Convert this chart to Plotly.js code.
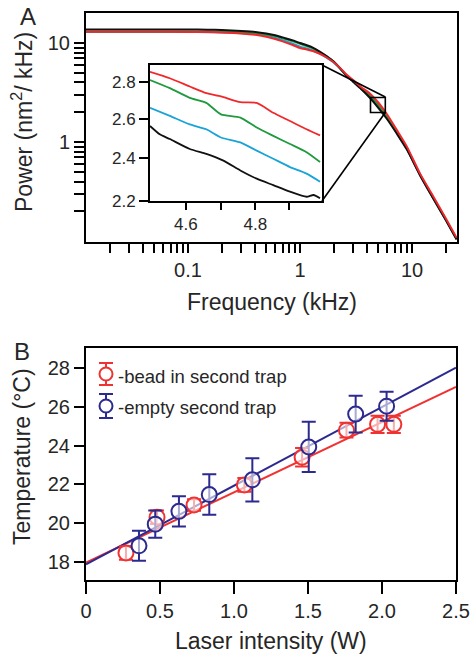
<!DOCTYPE html>
<html>
<head>
<meta charset="utf-8">
<script src="https://cdn.plot.ly/plotly-3.0.1.min.js"></script>
<style>html,body{margin:0;padding:0;background:#fff;}#chart{width:472px;height:654px;}</style>
</head>
<body>
<div id="chart"></div>
<script>
// ---------- Panel A: power spectra ----------
const freqA = [0.0123, 0.02, 0.05, 0.1, 0.15, 0.2, 0.3, 0.4, 0.5, 0.6, 0.7, 0.85, 1.0, 1.15, 1.3, 1.5, 1.75, 2.0, 2.3, 2.6, 3.0, 3.5, 4.2, 5.0, 6.0, 7.3, 9.0, 11.8, 15, 20, 25];
const powerBlack = [13.7, 13.7, 13.7, 13.7, 13.65, 13.55, 13.25, 12.95, 12.5, 12.0, 11.4, 10.7, 10.0, 9.5, 9.0, 8.2, 7.3, 6.5, 5.5, 4.7, 4.05, 3.45, 2.8, 2.22, 1.7, 1.22, 0.84, 0.46, 0.285, 0.163, 0.104];
const powerGreen = [13.1, 13.1, 13.1, 13.1, 13.07, 13.0, 12.8, 12.55, 12.2, 11.75, 11.2, 10.5, 9.8, 9.3, 8.85, 8.1, 7.25, 6.45, 5.5, 4.7, 4.1, 3.5, 2.95, 2.37, 1.78, 1.26, 0.86, 0.47, 0.29, 0.165, 0.105];
const powerCyan = [12.9, 12.9, 12.9, 12.9, 12.87, 12.8, 12.55, 12.25, 11.85, 11.3, 10.7, 9.9, 9.2, 8.8, 8.4, 7.8, 7.05, 6.35, 5.45, 4.65, 4.05, 3.45, 2.85, 2.29, 1.74, 1.24, 0.85, 0.465, 0.288, 0.164, 0.105];
const powerRed = [13.0, 13.0, 13.0, 12.95, 12.9, 12.8, 12.5, 12.1, 11.6, 11.0, 10.4, 9.6, 8.9, 8.6, 8.3, 7.8, 7.1, 6.4, 5.55, 4.8, 4.2, 3.6, 3.1, 2.51, 1.9, 1.33, 0.9, 0.48, 0.3, 0.17, 0.108];

// inset (zoom 4.5 - 5.0 kHz)
const insetFreq = [4.50, 4.555, 4.611, 4.658, 4.70, 4.756, 4.804, 4.853, 4.903, 4.953, 4.994];
const insetRed = [2.860, 2.823, 2.776, 2.739, 2.721, 2.689, 2.685, 2.632, 2.588, 2.545, 2.514];
const insetGreen = [2.813, 2.767, 2.713, 2.685, 2.623, 2.606, 2.554, 2.511, 2.470, 2.429, 2.381];
const insetCyan = [2.659, 2.615, 2.570, 2.545, 2.503, 2.478, 2.437, 2.397, 2.357, 2.326, 2.288];
const insetBlackFreq = [4.50, 4.527, 4.555, 4.611, 4.658, 4.707, 4.756, 4.804, 4.853, 4.903, 4.953, 4.974, 4.994];
const insetBlack = [2.562, 2.519, 2.495, 2.445, 2.421, 2.388, 2.341, 2.302, 2.272, 2.242, 2.219, 2.227, 2.212];

// ---------- Panel B: temperature vs laser intensity ----------
const beadX = [0.27, 0.48, 0.73, 1.07, 1.46, 1.76, 1.97, 2.08];
const beadT = [18.45, 20.3, 20.93, 21.97, 23.4, 24.8, 25.1, 25.1];
const beadErr = [0.35, 0.35, 0.3, 0.35, 0.48, 0.38, 0.45, 0.45];
const emptyX = [0.358, 0.468, 0.628, 0.833, 1.124, 1.505, 1.822, 2.031];
const emptyT = [18.82, 19.94, 20.6, 21.47, 22.23, 23.93, 25.63, 26.04];
const emptyErr = [0.78, 0.71, 0.78, 1.05, 1.12, 1.3, 0.95, 0.75];
const fitX = [0, 2.5];
const beadFit = [17.95, 27.04];
const emptyFit = [17.86, 28.03];
const seriesNames = ['-bead in second trap', '-empty second trap'];

// ---------- tick labels ----------
const xTickValsB = [0, 0.5, 1.0, 1.5, 2.0, 2.5];
const xTickTextB = ['0', '0.5', '1.0', '1.5', '2.0', '2.5'];
const yTickValsB = [18, 20, 22, 24, 26, 28];
const majorXA = [0.1, 1, 10];
const majorXAText = ['0.1', '1', '10'];
const majorYA = [1, 10];
const majorYAText = ['1', '10'];
const majorXI = [4.6, 4.8];
const majorXIText = ['4.6', '4.8'];
const yTickValsI = [2.2, 2.4, 2.6, 2.8];
const yTickTextI = ['2.2', '2.4', '2.6', '2.8'];
const minorXA = [0.02,0.03,0.04,0.05,0.06,0.07,0.08,0.09,0.2,0.3,0.4,0.5,0.6,0.7,0.8,0.9,2,3,4,5,6,7,8,9,20];
const minorYA = [0.2,0.3,0.4,0.5,0.6,0.7,0.8,0.9,2,3,4,5,6,7,8,9];
const minorXI = [4.7, 4.9];

// ---------- style ----------
const W = 472, H = 654;
const FONT = 'Liberation Sans, Arial, Helvetica, sans-serif';
const TXT = '#262626';
const C = {black: '#111111', green: '#1f9a3e', cyan: '#1aa3d6', red: '#f0282b', bRed: '#f03232', bBlue: '#2c2a8e'};
const fx = p => p / W;          // pixel -> paper x
const fy = p => 1 - p / H;      // pixel -> paper y

// merge major (labelled) and minor (unlabelled) ticks
function mergeTicks(major, majorText, minor) {
  const all = major.map((v, i) => [v, majorText[i]]).concat(minor.map(v => [v, '']));
  all.sort((a, b) => a[0] - b[0]);
  return {vals: all.map(a => a[0]), text: all.map(a => a[1])};
}
const ticksXA = mergeTicks(majorXA, majorXAText, minorXA);
const ticksYA = mergeTicks(majorYA, majorYAText, minorYA);
const ticksXI = mergeTicks(majorXI, majorXIText, minorXI);

const traces = [];
function specLine(x, y, color, xa, ya, w) {
  return {x: x, y: y, type: 'scatter', mode: 'lines', xaxis: xa, yaxis: ya,
          line: {color: color, width: w, shape: 'spline', smoothing: 0.6}, showlegend: false, hoverinfo: 'skip'};
}
traces.push(specLine(freqA, powerCyan, C.cyan, 'x', 'y', 2));
traces.push(specLine(freqA, powerGreen, C.green, 'x', 'y', 2));
traces.push(specLine(freqA, powerBlack, C.black, 'x', 'y', 2));
traces.push(specLine(freqA, powerRed, C.red, 'x', 'y', 2));
traces.push(specLine(insetBlackFreq, insetBlack, C.black, 'x2', 'y2', 1.8));
traces.push(specLine(insetFreq, insetCyan, C.cyan, 'x2', 'y2', 1.8));
traces.push(specLine(insetFreq, insetGreen, C.green, 'x2', 'y2', 1.8));
traces.push(specLine(insetFreq, insetRed, C.red, 'x2', 'y2', 1.8));

// fits
traces.push({x: fitX, y: beadFit, type: 'scatter', mode: 'lines', xaxis: 'x3', yaxis: 'y3',
  line: {color: C.bRed, width: 2}, showlegend: false, hoverinfo: 'skip'});
traces.push({x: fitX, y: emptyFit, type: 'scatter', mode: 'lines', xaxis: 'x3', yaxis: 'y3',
  line: {color: C.bBlue, width: 2}, showlegend: false, hoverinfo: 'skip'});
// data
traces.push({x: beadX, y: beadT, type: 'scatter', mode: 'markers', xaxis: 'x3', yaxis: 'y3',
  name: seriesNames[0], showlegend: false,
  marker: {symbol: 'circle', size: 15, color: 'rgba(255,255,255,0.6)', line: {color: C.bRed, width: 2}},
  error_y: {type: 'data', array: beadErr, visible: true, color: C.bRed, thickness: 2, width: 7}});
traces.push({x: emptyX, y: emptyT, type: 'scatter', mode: 'markers', xaxis: 'x3', yaxis: 'y3',
  name: seriesNames[1], showlegend: false,
  marker: {symbol: 'circle', size: 15, color: 'rgba(255,255,255,0.6)', line: {color: C.bBlue, width: 2}},
  error_y: {type: 'data', array: emptyErr, visible: true, color: C.bBlue, thickness: 2, width: 7}});

const axBase = {showline: true, linecolor: '#000', linewidth: 2, mirror: true, showgrid: false, zeroline: false,
  ticks: 'outside', tickcolor: '#000', tickwidth: 2, tickfont: {family: FONT, size: 20, color: TXT}, fixedrange: true,
  tickmode: 'array'};

const rangeXA = [Math.log10(0.0123), Math.log10(25.2)];
const rangeYA = [Math.log10(0.098), Math.log10(20.1)];
const rangeXI = [Math.log10(4.5), Math.log10(5.0)];
const rangeYI = [Math.log10(2.2), Math.log10(2.9)];
const boxA = {l: 86, r: 457, t: 13, b: 242};
const boxI = {l: 150, r: 322, t: 65, b: 201};
const boxB = {l: 86, r: 456, t: 348, b: 580};

// custom legend marks (decoration) for panel B
function legendSymbol(cx, cy, half, color) {
  const sw = 2;
  return [
    {type: 'line', xref: 'paper', yref: 'paper', x0: fx(cx), x1: fx(cx), y0: fy(cy - half), y1: fy(cy + half), line: {color: color, width: sw}},
    {type: 'line', xref: 'paper', yref: 'paper', x0: fx(cx - 7), x1: fx(cx + 7), y0: fy(cy - half), y1: fy(cy - half), line: {color: color, width: sw}},
    {type: 'line', xref: 'paper', yref: 'paper', x0: fx(cx - 7), x1: fx(cx + 7), y0: fy(cy + half), y1: fy(cy + half), line: {color: color, width: sw}},
    {type: 'circle', xref: 'paper', yref: 'paper', x0: fx(cx - 6.5), x1: fx(cx + 6.5), y0: fy(cy + 6.5), y1: fy(cy - 6.5),
     fillcolor: '#fff', line: {color: color, width: sw}}
  ];
}

const layout = {
  width: W, height: H, margin: {l: 0, r: 0, t: 0, b: 0},
  paper_bgcolor: '#fff', plot_bgcolor: 'rgba(0,0,0,0)',
  font: {family: FONT, color: TXT},
  showlegend: false,
  xaxis: Object.assign({}, axBase, {type: 'log', domain: [fx(boxA.l), fx(boxA.r)], anchor: 'y',
    range: rangeXA, tickvals: ticksXA.vals, ticktext: ticksXA.text, ticklen: 9}),
  yaxis: Object.assign({}, axBase, {type: 'log', domain: [fy(boxA.b), fy(boxA.t)], anchor: 'x',
    range: rangeYA, tickvals: ticksYA.vals, ticktext: ticksYA.text, ticklen: 10}),
  xaxis2: Object.assign({}, axBase, {type: 'log', domain: [fx(boxI.l), fx(boxI.r)], anchor: 'y2',
    range: rangeXI, tickvals: ticksXI.vals, ticktext: ticksXI.text, ticklen: 7,
    tickfont: {family: FONT, size: 17, color: TXT}}),
  yaxis2: Object.assign({}, axBase, {type: 'log', domain: [fy(boxI.b), fy(boxI.t)], anchor: 'x2',
    range: rangeYI, tickvals: yTickValsI, ticktext: yTickTextI, ticklen: 9,
    tickfont: {family: FONT, size: 17, color: TXT}}),
  xaxis3: Object.assign({}, axBase, {domain: [fx(boxB.l), fx(boxB.r)], anchor: 'y3', range: [0, 2.5],
    tickvals: xTickValsB, ticktext: xTickTextB, ticklen: 12}),
  yaxis3: Object.assign({}, axBase, {domain: [fy(boxB.b), fy(boxB.t)], anchor: 'x3', range: [17.05, 29.05],
    tickvals: yTickValsB, ticklen: 10}),
  shapes: [
    {type: 'rect', xref: 'paper', yref: 'paper', x0: fx(370.5), x1: fx(385.3), y0: fy(112.5), y1: fy(97.5),
     line: {color: '#000', width: 1.6}},
    {type: 'line', xref: 'paper', yref: 'paper', x0: fx(322), y0: fy(65), x1: fx(385.3), y1: fy(97),
     line: {color: '#000', width: 1.6}},
    {type: 'line', xref: 'paper', yref: 'paper', x0: fx(322), y0: fy(201), x1: fx(385.3), y1: fy(112.5),
     line: {color: '#000', width: 1.6}}
  ].concat(legendSymbol(106, 374, 11, C.bRed), legendSymbol(106, 406, 12, C.bBlue)),
  annotations: [
    {text: 'A', xref: 'paper', yref: 'paper', x: fx(28), y: fy(17), showarrow: false, xanchor: 'center', yanchor: 'middle',
     font: {family: FONT, size: 24, color: TXT}},
    {text: 'B', xref: 'paper', yref: 'paper', x: fx(22), y: fy(351), showarrow: false, xanchor: 'center', yanchor: 'middle',
     font: {family: FONT, size: 24, color: TXT}},
    {text: 'Power (nm<sup>2</sup>/ kHz)', xref: 'paper', yref: 'paper', x: fx(22), y: fy(122), textangle: -90,
     showarrow: false, xanchor: 'center', yanchor: 'middle', font: {family: FONT, size: 23, color: TXT}},
    {text: 'Frequency (kHz)', xref: 'paper', yref: 'paper', x: fx(272), y: fy(302), showarrow: false,
     xanchor: 'center', yanchor: 'middle', font: {family: FONT, size: 23, color: TXT}},
    {text: 'Temperature (°C)', xref: 'paper', yref: 'paper', x: fx(22), y: fy(457), textangle: -90,
     showarrow: false, xanchor: 'center', yanchor: 'middle', font: {family: FONT, size: 23, color: TXT}},
    {text: 'Laser intensity (W)', xref: 'paper', yref: 'paper', x: fx(271), y: fy(641), showarrow: false,
     xanchor: 'center', yanchor: 'middle', font: {family: FONT, size: 23, color: TXT}},
    {text: seriesNames[0], xref: 'paper', yref: 'paper', x: fx(116), y: fy(376), showarrow: false,
     xanchor: 'left', yanchor: 'middle', font: {family: FONT, size: 18.5, color: TXT}},
    {text: seriesNames[1], xref: 'paper', yref: 'paper', x: fx(116), y: fy(407), showarrow: false,
     xanchor: 'left', yanchor: 'middle', font: {family: FONT, size: 18.5, color: TXT}}
  ]
};

Plotly.newPlot('chart', traces, layout, {displayModeBar: false, staticPlot: true});
</script>
</body>
</html>
